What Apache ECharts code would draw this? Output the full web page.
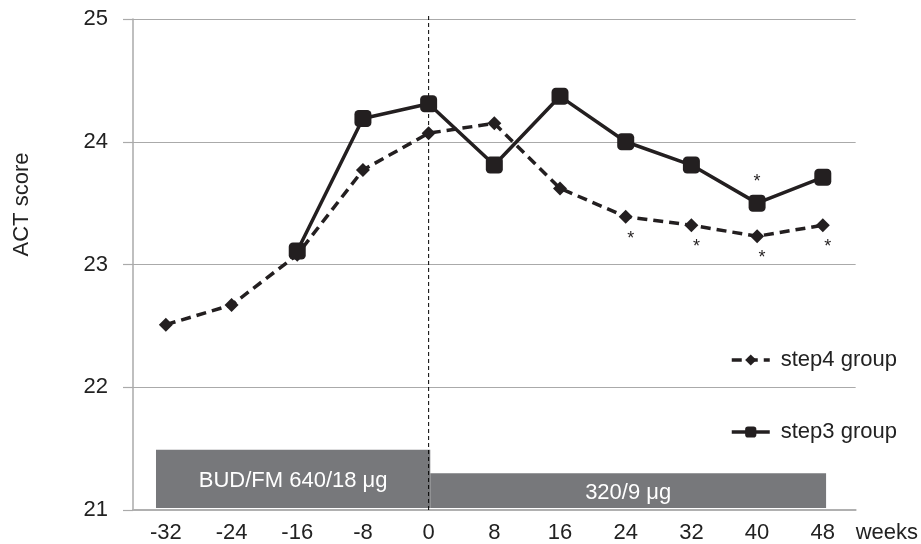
<!DOCTYPE html>
<html>
<head>
<meta charset="utf-8">
<script src="https://cdn.jsdelivr.net/npm/echarts@6/dist/echarts.min.js"></script>
<style>
html, body { margin: 0; padding: 0; background: #fff; }
#chart { width: 921px; height: 544px; }
</style>
</head>
<body>
<div id="chart"></div>
<script>
const weeks = ['-32', '-24', '-16', '-8', '0', '8', '16', '24', '32', '40', '48'];
const step4 = [22.51, 22.67, 23.08, 23.77, 24.07, 24.15, 23.62, 23.39, 23.32, 23.23, 23.32];
const step3 = [null, null, 23.11, 24.19, 24.31, 23.81, 24.37, 24.00, 23.81, 23.50, 23.71];
// significance marks (*)
const step4Star = [0, 0, 0, 0, 0, 0, 0, 1, 1, 1, 1];
const step3Star = [0, 0, 0, 0, 0, 0, 0, 0, 0, 1, 0];
// treatment periods: start week, end week, top of box
const periodStart = [-33.2, 0.2];
const periodEnd = [0.2, 48.4];
const periodTop = [21.49, 21.30];
const periodText = ['BUD/FM 640/18 μg', '320/9 μg'];
const switchWeek = 0;

const font = 'Liberation Sans';
const ink = '#231f20';
const fs = 22;

const chart = echarts.init(document.getElementById('chart'));

const starData = (vals, stars) => vals.map((v, i) => ({
  value: v,
  label: { show: stars[i] === 1 }
}));

chart.setOption({
  animation: false,
  textStyle: { fontFamily: font },
  grid: { left: 133, right: 64, top: 19, bottom: 31 },
  legend: {
    orient: 'vertical',
    left: 725,
    top: 344,
    itemWidth: 38,
    itemHeight: 14,
    itemGap: 50,
    data: ['step4 group', 'step3 group'],
    lineStyle: { width: 3.5 },
    textStyle: { fontSize: fs, lineHeight: 22, color: '#222', fontFamily: font, padding: [0, 0, 0, 6] }
  },
  xAxis: [
    {
      type: 'category',
      data: weeks,
      boundaryGap: true,
      axisLine: { lineStyle: { color: '#b0b0b0', width: 2 } },
      axisTick: { show: false },
      axisLabel: { color: '#222', fontSize: fs, margin: 12 },
      name: 'weeks',
      nameLocation: 'end',
      nameGap: 0,
      nameTextStyle: { color: '#222', fontSize: fs, verticalAlign: 'top', padding: [12, 0, 0, 0] }
    },
    {
      type: 'value',
      min: -36,
      max: 52,
      show: false
    }
  ],
  yAxis: {
    type: 'value',
    min: 21,
    max: 25,
    interval: 1,
    name: 'ACT score',
    nameLocation: 'middle',
    nameGap: 100,
    nameTextStyle: { color: '#222', fontSize: fs, padding: [0, 0, 0, 120] },
    axisLine: { show: true, onZero: false, lineStyle: { color: '#aaa', width: 1.5 } },
    axisTick: { show: true, inside: false, length: 10, lineStyle: { color: '#aaa', width: 1.2 } },
    axisLabel: { color: '#222', fontSize: fs, margin: 25 },
    splitLine: { lineStyle: { color: '#aaa', width: 1.2 } }
  },
  series: [
    {
      type: 'custom',
      xAxisIndex: 1,
      yAxisIndex: 0,
      z: 1,
      silent: true,
      data: periodStart.map((s, i) => [s, periodEnd[i], periodTop[i]]),
      encode: { x: [0, 1], y: 2 },
      renderItem: function (params, api) {
        const p0 = api.coord([api.value(0), 21.016]);
        const p1 = api.coord([api.value(1), api.value(2)]);
        return {
          type: 'group',
          children: [
            {
              type: 'rect',
              shape: { x: p0[0], y: p1[1], width: p1[0] - p0[0], height: p0[1] - p1[1] },
              style: { fill: '#77787b' }
            },
            {
              type: 'text',
              style: {
                text: periodText[params.dataIndex],
                x: (p0[0] + p1[0]) / 2,
                y: (p0[1] + p1[1]) / 2 + 2,
                align: 'center',
                verticalAlign: 'middle',
                fill: '#fff',
                font: fs + 'px "' + font + '"'
              }
            }
          ]
        };
      }
    },
    {
      type: 'line',
      xAxisIndex: 1,
      z: 3,
      silent: true,
      clip: false,
      symbol: 'none',
      data: [[switchWeek, 21], [switchWeek, 25.04]],
      lineStyle: { color: '#000', width: 1, type: [4, 3] }
    },
    {
      name: 'step4 group',
      type: 'line',
      z: 4,
      data: starData(step4, step4Star),
      symbol: 'diamond',
      symbolSize: 14,
      itemStyle: { color: ink },
      lineStyle: { color: ink, width: 3.5, type: [10, 6] },
      label: {
        position: 'bottom',
        distance: 6,
        offset: [5, 0],
        formatter: '*',
        fontSize: 18,
        color: ink
      }
    },
    {
      name: 'step3 group',
      type: 'line',
      z: 5,
      data: starData(step3, step3Star),
      symbol: 'roundRect',
      symbolSize: 17,
      itemStyle: { color: ink },
      lineStyle: { color: ink, width: 3.5 },
      label: {
        position: 'top',
        distance: 4,
        formatter: '*',
        fontSize: 18,
        color: ink
      }
    }
  ]
});
</script>
</body>
</html>
